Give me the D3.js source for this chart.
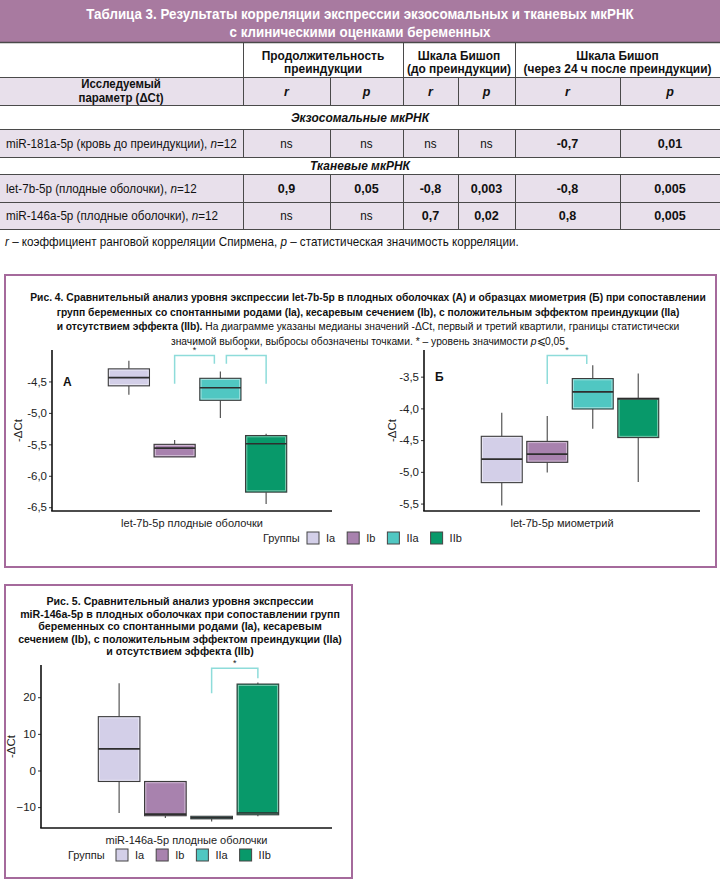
<!DOCTYPE html>
<html>
<head>
<meta charset="utf-8">
<script src="https://cdn.jsdelivr.net/npm/d3@7"></script>
<style>
  body { margin: 0; background: #fff; }
  svg { display: block; }
</style>
</head>
<body>
<script>
// ---- table data ----
var tableTitle = ["Таблица 3. Результаты корреляции экспрессии экзосомальных и тканевых мкРНК",
                  "с клиническими оценками беременных"];
var colGroups = [["Продолжительность", "преиндукции"],
                 ["Шкала Бишоп", "(до преиндукции)"],
                 ["Шкала Бишоп", "(через 24 ч после преиндукции)"]];
var paramHeader = ["Исследуемый", "параметр (ΔCt)"];
var statLabels = ["r", "p", "r", "p", "r", "p"];
var sectionNames = ["Экзосомальные  мкРНК", "Тканевые мкРНК"];
var rowNames = ["miR-181a-5p  (кровь до преиндукции), ",
                "let-7b-5p (плодные оболочки), ",
                "miR-146a-5p  (плодные оболочки), "];
var rowN = ["n", "n", "n"];
var rowValues = [["ns", "ns", "ns", "ns", "-0,7", "0,01"],
                 ["0,9", "0,05", "-0,8", "0,003", "-0,8", "0,005"],
                 ["ns", "ns", "0,7", "0,02", "0,8", "0,005"]];

// ---- chart data ----
var groups = ["Ia", "Ib", "IIa", "IIb"];
var groupColors = ["#D3CFE8", "#A882AE", "#50C7C2", "#08996A"];

// [min, q1, median, q3, max]
var let7Membranes = [
  [-4.71, -4.57, -4.44, -4.30, -4.17],
  [-5.70, -5.70, -5.56, -5.50, -5.43],
  [-5.08, -4.80, -4.60, -4.45, -4.34],
  [-6.45, -6.26, -5.49, -5.36, -5.33]
];
var let7Myometrium = [
  [-5.53, -5.17, -4.80, -4.44, -4.07],
  [-5.01, -4.85, -4.72, -4.52, -4.12],
  [-4.32, -4.01, -3.74, -3.53, -3.32],
  [-5.16, -4.46, -3.85, -3.84, -3.45]
];
var mir146Membranes = [
  [-11.6, -3.0, 5.9, 14.7, 23.8],
  [-13.0, -12.35, -11.9, -3.0, -3.0],
  [-13.9, -13.2, -12.9, -12.5, -12.5],
  [-12.5, -12.1, -11.6, 23.6, 24.0]
];

var ticksA = [-4.5, -5.0, -5.5, -6.0, -6.5];
var ticksB = [-3.5, -4.0, -4.5, -5.0, -5.5];
var ticks5 = [20, 10, 0, -10];

var bracketsA = [
  {from: "Ib", to: "IIa", top: -4.086, fromEnd: -4.537, toEnd: -4.218},
  {from: "IIa", to: "IIb", top: -4.086, fromEnd: -4.218, toEnd: -4.537}
];
var bracketsB = [
  {from: "Ib", to: "IIa", top: -3.168, fromEnd: -3.615, toEnd: -3.30}
];
var brackets5 = [
  {from: "IIa", to: "IIb", top: 27.9, fromEnd: 21.1, toEnd: 25.2}
];

var fig4Caption = [
  [["Рис. 4. Сравнительный анализ уровня экспрессии let-7b-5p в плодных оболочках (А) и образцах миометрия (Б) при сопоставлении", "b"]],
  [["групп беременных со спонтанными родами (Ia), кесаревым сечением (Ib), с положительным эффектом преиндукции (IIa)", "b"]],
  [["и отсутствием эффекта (IIb).", "b"], [" На диаграмме указаны медианы значений -ΔCt, первый и третий квартили, границы статистически", ""]],
  [["значимой выборки, выбросы обозначены точками. * – уровень значимости ", ""], ["p", "i"], ["⩽0,05", ""]]
];
var fig5Caption = [
  "Рис. 5. Сравнительный анализ уровня экспрессии",
  "miR-146a-5p в плодных оболочках при сопоставлении групп",
  "беременных со спонтанными родами (Ia), кесаревым",
  "сечением (Ib), с положительным эффектом преиндукции (IIa)",
  "и отсутствием эффекта (IIb)"
];

var SANS = "'Liberation Sans',Arial,Helvetica,sans-serif";
var PURPLE = "#A87AA0";
var FRAME = "#A56A9C";
var CELL = "#E8E0EB";
var LINE = "#4a4a4a";

var svg = d3.select("body").append("svg")
  .attr("width", 720)
  .attr("height", 881);

// squeeze a text horizontally by factor k (fake condensed face)
function squeeze(sel, k) {
  var x = +sel.attr("x"), y = +sel.attr("y");
  sel.attr("x", 0).attr("y", 0)
    .attr("transform", "translate(" + x + "," + y + ") scale(" + k + ",1)");
  return sel;
}
// squeeze factor needed for a text to span the target width
function factorFor(sel, target) {
  return target / sel.node().getComputedTextLength();
}

// ================= TABLE =================
var colX = [0, 243, 330, 403, 458, 515, 620, 720];
var groupEdges = [[1, 3], [3, 5], [5, 7]];

svg.append("rect").attr("x", 0).attr("y", 0).attr("width", 720).attr("height", 42).attr("fill", PURPLE);
var t1 = svg.append("text").attr("x", 360).attr("y", 19).attr("text-anchor", "middle")
  .attr("font-family", SANS).attr("font-weight", "bold").attr("font-size", 15.5).attr("fill", "#fff")
  .text(tableTitle[0]);
var kTitle = factorFor(t1, 548);
squeeze(t1, kTitle);
squeeze(svg.append("text").attr("x", 360).attr("y", 36.5).attr("text-anchor", "middle")
  .attr("font-family", SANS).attr("font-weight", "bold").attr("font-size", 15.5).attr("fill", "#fff")
  .text(tableTitle[1]), kTitle);

// header row 1
var headNodes = [];
colGroups.forEach(function(lines, i) {
  var cx = (colX[groupEdges[i][0]] + colX[groupEdges[i][1]]) / 2;
  lines.forEach(function(s, j) {
    headNodes.push(svg.append("text").attr("x", cx).attr("y", 59.5 + j * 13).attr("text-anchor", "middle")
      .attr("font-family", SANS).attr("font-weight", "bold").attr("font-size", 12.5).attr("fill", "#111")
      .text(s));
  });
});
var kHead = factorFor(headNodes[5], 188);
headNodes.forEach(function(n) { squeeze(n, kHead); });

// header row 2 + data rows fill
var filledRows = [[77, 105], [129, 157], [174, 202], [202, 229]];
filledRows.forEach(function(r) {
  svg.append("rect").attr("x", 0).attr("y", r[0]).attr("width", 720).attr("height", r[1] - r[0]).attr("fill", CELL);
});

paramHeader.forEach(function(s, j) {
  squeeze(svg.append("text").attr("x", 121).attr("y", 88 + j * 13.5).attr("text-anchor", "middle")
    .attr("font-family", SANS).attr("font-weight", "bold").attr("font-size", 12).attr("fill", "#111")
    .text(s), kHead);
});
statLabels.forEach(function(s, i) {
  svg.append("text").attr("x", (colX[i + 1] + colX[i + 2]) / 2).attr("y", 96).attr("text-anchor", "middle")
    .attr("font-family", SANS).attr("font-weight", "bold").attr("font-style", "italic")
    .attr("font-size", 12.5).attr("fill", "#111").text(s);
});

// section titles
[[sectionNames[0], 121.5], [sectionNames[1], 169.5]].forEach(function(d) {
  squeeze(svg.append("text").attr("x", 360).attr("y", d[1]).attr("text-anchor", "middle")
    .attr("font-family", SANS).attr("font-weight", "bold").attr("font-style", "italic")
    .attr("font-size", 12.5).attr("fill", "#111").text(d[0]), kHead);
});

// data rows
var dataRowY = [[129, 157], [174, 202], [202, 229]];
var kBody = null;
rowNames.forEach(function(name, i) {
  var yMid = (dataRowY[i][0] + dataRowY[i][1]) / 2 + 4.5;
  var t = svg.append("text").attr("x", 6).attr("y", yMid)
    .attr("font-family", SANS).attr("font-size", 12.5).attr("fill", "#111");
  t.append("tspan").text(name);
  t.append("tspan").attr("font-style", "italic").text(rowN[i]);
  t.append("tspan").text("=12");
  if (kBody === null) kBody = factorFor(t, 231);
  squeeze(t, kBody);
  rowValues[i].forEach(function(v, k) {
    squeeze(svg.append("text").attr("x", (colX[k + 1] + colX[k + 2]) / 2).attr("y", yMid)
      .attr("text-anchor", "middle").attr("font-family", SANS)
      .attr("font-weight", v === "ns" ? "normal" : "bold")
      .attr("font-size", v === "ns" ? 12.5 : 13.5).attr("fill", "#111").text(v), kBody);
  });
});

// table lines
[42, 77, 105, 129, 157, 174, 202, 229].forEach(function(y) {
  svg.append("line").attr("x1", 0).attr("x2", 720).attr("y1", y + 0.5).attr("y2", y + 0.5)
    .attr("stroke", LINE).attr("stroke-width", y === 42 ? 1.5 : 1);
});
[243, 403, 515].forEach(function(x) {
  svg.append("line").attr("x1", x + 0.5).attr("x2", x + 0.5).attr("y1", 42).attr("y2", 77)
    .attr("stroke", LINE).attr("stroke-width", 1);
});
dataRowY.concat([[77, 105]]).forEach(function(r) {
  colX.slice(1, 7).forEach(function(x) {
    svg.append("line").attr("x1", x + 0.5).attr("x2", x + 0.5).attr("y1", r[0]).attr("y2", r[1])
      .attr("stroke", LINE).attr("stroke-width", 1);
  });
});

// footnote
var fn = svg.append("text").attr("x", 5).attr("y", 245.5)
  .attr("font-family", SANS).attr("font-size", 12.5).attr("fill", "#111");
fn.append("tspan").attr("font-style", "italic").text("r");
fn.append("tspan").text(" – коэффициент ранговой корреляции Спирмена, ");
fn.append("tspan").attr("font-style", "italic").text("p");
fn.append("tspan").text(" – статистическая значимость корреляции.");
squeeze(fn, kBody);

// ================= FIGURE FRAMES =================
svg.append("rect").attr("x", 5).attr("y", 275).attr("width", 711).attr("height", 292)
  .attr("fill", "none").attr("stroke", FRAME).attr("stroke-width", 2);
svg.append("rect").attr("x", 5).attr("y", 585).attr("width", 347).attr("height", 293)
  .attr("fill", "none").attr("stroke", FRAME).attr("stroke-width", 2);

// fig 4 caption
var kCap = null;
fig4Caption.forEach(function(segs, i) {
  var t = svg.append("text").attr("x", 368).attr("y", 301 + i * 14.5).attr("text-anchor", "middle")
    .attr("font-family", SANS).attr("font-size", 11.5).attr("fill", "#111");
  segs.forEach(function(s) {
    t.append("tspan")
      .attr("font-weight", s[1] === "b" ? "bold" : "normal")
      .attr("font-style", s[1] === "i" ? "italic" : "normal")
      .text(s[0]);
  });
  if (kCap === null) kCap = factorFor(t, 676);
  squeeze(t, kCap);
});

// fig 5 caption
var cap5Nodes = [];
fig5Caption.forEach(function(s, i) {
  cap5Nodes.push(svg.append("text").attr("x", 180).attr("y", 605 + i * 12.5).attr("text-anchor", "middle")
    .attr("font-family", SANS).attr("font-weight", "bold").attr("font-size", 11.5).attr("fill", "#111")
    .text(s));
});
var kCap5 = factorFor(cap5Nodes[3], 324);
cap5Nodes.forEach(function(n) { squeeze(n, kCap5); });

// ================= BOX PLOT PANELS =================
function fmtComma(d) { return d3.format(".1f")(d).replace(".", ",").replace("−", "-"); }

function drawPanel(cfg) {
  var y = d3.scaleLinear().domain(cfg.domain).range([cfg.yBottom, cfg.yTop]);
  var x = d3.scaleBand().domain(groups)
    .range([cfg.x0 + cfg.bandL, cfg.x1 - cfg.bandR])
    .paddingInner(0.1).paddingOuter(0.05);
  var g = svg.append("g");

  // y axis ticks
  var yAxis = d3.axisLeft(y).tickValues(cfg.ticks).tickSize(3).tickPadding(2).tickFormat(cfg.fmt);
  var ax = g.append("g").attr("transform", "translate(" + cfg.x0 + ",0)").call(yAxis);
  ax.select(".domain").remove();
  ax.selectAll(".tick line").attr("stroke", "#333");
  ax.selectAll(".tick text").attr("font-family", SANS).attr("font-size", 11.5).attr("fill", "#222");

  // axis lines
  g.append("line").attr("x1", cfg.x0).attr("x2", cfg.x0).attr("y1", cfg.yTop).attr("y2", cfg.yBottom)
    .attr("stroke", "#111").attr("stroke-width", 1.6);
  g.append("line").attr("x1", cfg.x0 - 0.8).attr("x2", cfg.x1).attr("y1", cfg.yBottom).attr("y2", cfg.yBottom)
    .attr("stroke", "#111").attr("stroke-width", 1.6);

  // boxes
  cfg.data.forEach(function(d, i) {
    var gName = groups[i];
    var bx = x(gName), bw = x.bandwidth(), cx = bx + bw / 2;
    var bg = g.append("g");
    bg.append("line").attr("x1", cx).attr("x2", cx).attr("y1", y(d[0])).attr("y2", y(d[1]))
      .attr("stroke", "#555").attr("stroke-width", 1.2);
    bg.append("line").attr("x1", cx).attr("x2", cx).attr("y1", y(d[3])).attr("y2", y(d[4]))
      .attr("stroke", "#555").attr("stroke-width", 1.2);
    bg.append("rect").attr("x", bx).attr("y", y(d[3])).attr("width", bw)
      .attr("height", Math.max(1.5, y(d[1]) - y(d[3])))
      .attr("fill", groupColors[i]).attr("stroke", "#3c3c3c").attr("stroke-width", 1.1);
    bg.append("rect").attr("x", bx + 1.3).attr("y", y(d[3]) + 1.3).attr("width", bw - 2.6)
      .attr("height", Math.max(0, y(d[1]) - y(d[3]) - 2.6))
      .attr("fill", "none").attr("stroke", "#fff").attr("stroke-opacity", 0.55).attr("stroke-width", 0.8);
    bg.append("line").attr("x1", bx).attr("x2", bx + bw).attr("y1", y(d[2])).attr("y2", y(d[2]))
      .attr("stroke", "#2e2e2e").attr("stroke-width", 1.6);
  });

  // significance brackets
  cfg.brackets.forEach(function(b) {
    var xa = x(b.from) + x.bandwidth() / 2;
    var xb = x(b.to) + x.bandwidth() / 2;
    if (b.fromEnd > b.toEnd) xa += cfg.inset; else xb -= cfg.inset;
    var path = d3.path();
    path.moveTo(xa, y(b.fromEnd));
    path.lineTo(xa, y(b.top));
    path.lineTo(xb, y(b.top));
    path.lineTo(xb, y(b.toEnd));
    g.append("path").attr("d", path.toString()).attr("fill", "none")
      .attr("stroke", "#8EDCDA").attr("stroke-width", 1.5);
    g.append("text").attr("x", (xa + xb) / 2).attr("y", y(b.top) - 2.5).attr("text-anchor", "middle")
      .attr("font-family", SANS).attr("font-size", 9).attr("fill", "#222").text("*");
  });

  // axis titles
  g.append("text").attr("x", (cfg.x0 + cfg.x1) / 2).attr("y", cfg.yBottom + cfg.xLabelGap)
    .attr("text-anchor", "middle").attr("font-family", SANS).attr("font-size", 11).attr("fill", "#222")
    .text(cfg.xLabel);
  g.append("text")
    .attr("transform", "translate(" + cfg.yLabelX + "," + (cfg.yTop + cfg.yBottom) / 2 + ") rotate(-90)")
    .attr("text-anchor", "middle").attr("font-family", SANS).attr("font-size", 11.5).attr("fill", "#222")
    .text("-ΔCt");
  if (cfg.letter) {
    g.append("text").attr("x", cfg.x0 + 11).attr("y", y(cfg.ticks[0]) + 4.5)
      .attr("font-family", SANS).attr("font-weight", "bold").attr("font-size", 12).attr("fill", "#111")
      .text(cfg.letter);
  }
}

function drawLegend(textX, boxX, yMid) {
  svg.append("text").attr("x", textX).attr("y", yMid + 4).attr("font-family", SANS)
    .attr("font-size", 11).attr("fill", "#222").text("Группы");
  var xPos = boxX;
  groups.forEach(function(gName, i) {
    svg.append("rect").attr("x", xPos).attr("y", yMid - 6).attr("width", 12).attr("height", 12)
      .attr("fill", groupColors[i]).attr("stroke", "#444").attr("stroke-width", 1);
    var t = svg.append("text").attr("x", xPos + 19).attr("y", yMid + 4).attr("font-family", SANS)
      .attr("font-size", 11).attr("fill", "#222").text(gName);
    xPos += 19 + t.node().getComputedTextLength() + 12;
  });
}

drawPanel({
  data: let7Membranes, ticks: ticksA, fmt: fmtComma, domain: [-6.56, -4.0],
  x0: 52, x1: 332, yTop: 350, yBottom: 511, bandL: 54, bandR: 43,
  brackets: bracketsA, inset: 6, letter: "А",
  xLabel: "let-7b-5p плодные оболочки", xLabelGap: 16, yLabelX: 22
});
drawPanel({
  data: let7Myometrium, ticks: ticksB, fmt: fmtComma, domain: [-5.617, -3.08],
  x0: 424, x1: 700, yTop: 350, yBottom: 511, bandL: 55, bandR: 39,
  brackets: bracketsB, inset: 6, letter: "Б",
  xLabel: "let-7b-5p миометрий", xLabelGap: 16, yLabelX: 396
});
drawLegend(263, 307, 538);

drawPanel({
  data: mir146Membranes, ticks: ticks5, fmt: d3.format("d"), domain: [-15.7, 28.8],
  x0: 41, x1: 332, yTop: 665, yBottom: 828, bandL: 55, bandR: 51,
  brackets: brackets5, inset: 0, letter: null,
  xLabel: "miR-146a-5p плодные оболочки", xLabelGap: 16, yLabelX: 15
});
drawLegend(68, 116, 855);
</script>
</body>
</html>
